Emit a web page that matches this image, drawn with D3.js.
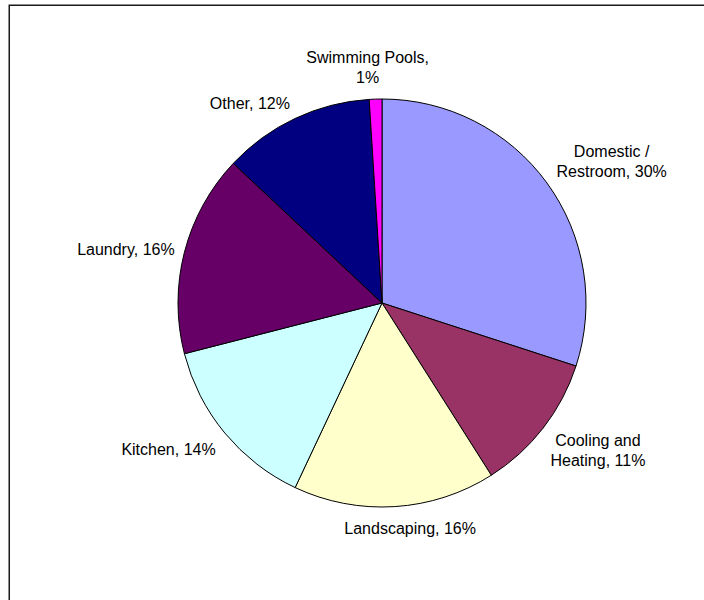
<!DOCTYPE html>
<html>
<head>
<meta charset="utf-8">
<script src="https://cdn.jsdelivr.net/npm/d3@7"></script>
<style>
  html, body { margin: 0; padding: 0; background: #fff; overflow: hidden; }
  svg { display: block; }
</style>
</head>
<body>
<svg id="chart" width="704" height="600"></svg>
<script>
// Water use by end use (percent of total)
const categories = ["Domestic / Restroom", "Cooling and Heating", "Landscaping", "Kitchen", "Laundry", "Other", "Swimming Pools"];
const values = [30, 11, 16, 14, 16, 12, 1];
// Label text, split into lines as printed
const labelLines = [
  ["Domestic /", "Restroom, 30%"],
  ["Cooling and", "Heating, 11%"],
  ["Landscaping, 16%"],
  ["Kitchen, 14%"],
  ["Laundry, 16%"],
  ["Other, 12%"],
  ["Swimming Pools,", "1%"]
];
const colors = ["#9999FF", "#993366", "#FFFFCC", "#CCFFFF", "#660066", "#000080", "#FF00FF"];
// Small hand adjustments to the automatic label placement [dx, dy]
const labelNudge = [[3, -3], [1, -2], [9, 1], [-3, 0], [-2, 0], [-18, 0], [-5, -6]];

const svg = d3.select("#chart");
const W = 704, H = 600;
const cx = 382, cy = 303, radius = 204;

// Frame: only its top and left edges fall inside the view
svg.append("path")
  .attr("d", `M9.25,${H} V5.25 H${W}`)
  .attr("fill", "none")
  .attr("stroke", "#1a1a1a")
  .attr("stroke-width", 1.5);

const data = categories.map((c, i) => ({ name: c, value: values[i], lines: labelLines[i], color: colors[i], nudge: labelNudge[i] }));

const pie = d3.pie().value(d => d.value).sort(null);
const arc = d3.arc().innerRadius(0).outerRadius(radius);
const arcs = pie(data);

const g = svg.append("g").attr("transform", `translate(${cx},${cy})`);

g.selectAll("path.slice")
  .data(arcs)
  .join("path")
  .attr("class", "slice")
  .attr("d", arc)
  .attr("fill", d => d.data.color)
  .attr("stroke", "#000")
  .attr("stroke-width", 1)
  .attr("stroke-linejoin", "round");

// Labels sit outside the rim, pushed out along each slice's mid angle
const fontSize = 16, lineH = 20, labelR = 212;
const clamp = v => Math.max(-1, Math.min(1, v));

arcs.forEach(a => {
  const mid = (a.startAngle + a.endAngle) / 2;
  const s = Math.sin(mid), c = Math.cos(mid);
  const t = g.append("text")
    .attr("font-family", "'Liberation Sans', Arial, sans-serif")
    .attr("font-size", fontSize)
    .attr("fill", "#000")
    .attr("text-anchor", "middle");
  a.data.lines.forEach(line => {
    t.append("tspan").text(line);
  });
  const widths = [];
  t.selectAll("tspan").each(function () { widths.push(this.getComputedTextLength()); });
  const w = d3.max(widths);
  const h = a.data.lines.length * lineH;
  const px = s * labelR + (w / 2) * clamp(s * 1.4) + a.data.nudge[0];
  const py = -c * labelR - (h / 2) * clamp(c * 1.4) + a.data.nudge[1];
  // first baseline so that the block is centred on (px, py)
  const firstBase = py - h / 2 + lineH * 0.9;
  t.selectAll("tspan")
    .attr("x", px)
    .attr("y", (d, i) => firstBase + i * lineH);
});
</script>
</body>
</html>
